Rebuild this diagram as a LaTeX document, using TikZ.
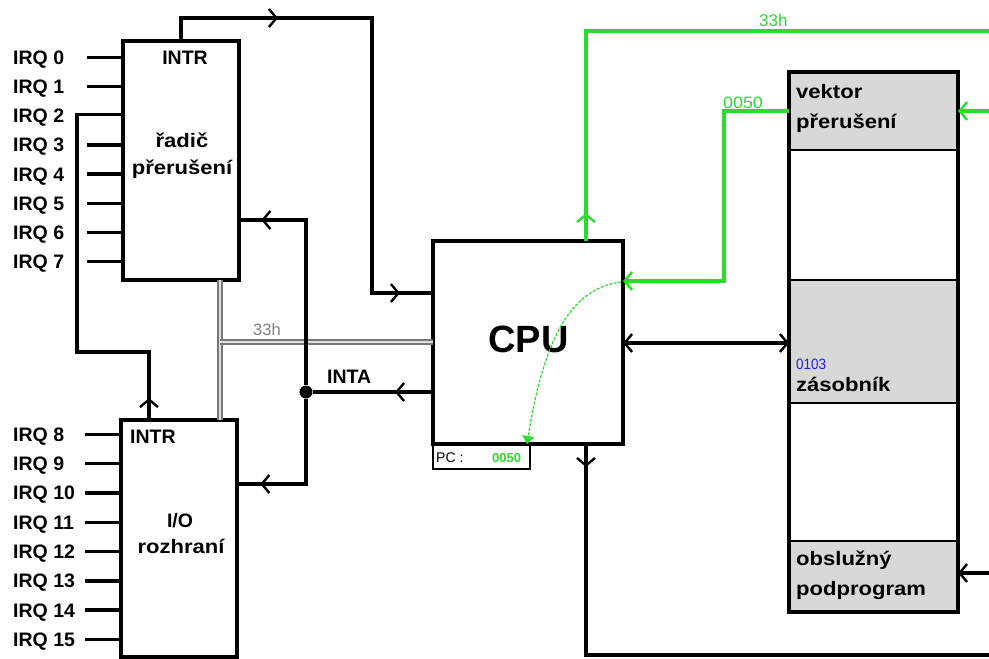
\documentclass[tikz,border=0pt]{standalone}
\usepackage{fontspec}
\usepackage{graphicx}
\setmainfont{Liberation Sans}
\usetikzlibrary{arrows.meta,decorations.markings,fit}
\definecolor{grn}{RGB}{45,218,45}
\definecolor{memgray}{RGB}{216,216,216}
\definecolor{busgray}{RGB}{120,120,120}
\definecolor{lblue}{RGB}{30,30,230}
\newcommand\xwide[1]{\scalebox{1.13}[1]{#1}}
\tikzset{
  chev/.tip={Straight Barb[length=7.5pt,width=18pt,line width=2.4pt]},
  marr/.style={postaction={decorate,decoration={markings,mark=at position #1 with {\arrow{chev}}}}},
  wire/.style={line width=3.4pt},
  gwire/.style={draw=grn,line width=3.6pt},
  bus/.style={draw=busgray,line width=1.6pt,double=gray!25,double distance=2pt},
  box/.style={draw,line width=3.8pt,fill=white,inner sep=0pt,outer sep=0pt},
  sec/.style={draw,line width=2.5pt,inner sep=0pt,outer sep=0pt,minimum width=169,anchor=north west},
  big/.style={font=\bfseries\fontsize{19.5}{22}\selectfont,inner sep=0pt},
  small/.style={font=\fontsize{16.5}{18}\selectfont,inner sep=0pt,anchor=base west},
}
\begin{document}
\begin{tikzpicture}[x=1pt,y=-1pt]
\useasboundingbox (0,0) rectangle (989,659);
\fill[white] (0,0) rectangle (989,659);

% ---- boxes
\node[draw,line width=1.3pt,fill=white,inner sep=0pt,outer sep=0pt,minimum width=97,minimum height=25,anchor=north west] (pc) at (433,444) {};
\node[box,minimum width=116,minimum height=239] (pic) at (181,160.5) {};
\node[box,minimum width=116,minimum height=237] (io) at (179,538.5) {};
\node[box,minimum width=190,minimum height=203] (cpu) at (528,342.5) {};

\node[sec,fill=memgray,minimum height=78] (vec) at (789,72) {};
\node[sec,fill=white,minimum height=130] (f1) at (789,150) {};
\node[sec,fill=memgray,minimum height=123] (stack) at (789,280) {};
\node[sec,fill=white,minimum height=138] (f2) at (789,403) {};
\node[sec,fill=memgray,minimum height=71] (isr) at (789,541) {};
\node[draw,line width=4pt,inner sep=0pt,fit=(vec)(isr)] (mem) {};

% ---- texts in boxes
\node[big,anchor=base] (pintr) at (185,64) {INTR};
\node[big,anchor=base] (pl1) at (182,147) {\xwide{řadič}};
\node[big,anchor=base] (pl2) at (182,174) {\xwide{přerušení}};
\node[big,anchor=base west] (iintr) at (130,443) {INTR};
\node[big,anchor=base] (il1) at (180,527) {I/O};
\node[big,anchor=base] (il2) at (181,553) {\xwide{rozhraní}};
\node[font=\bfseries\fontsize{38}{40}\selectfont,inner sep=0pt,anchor=base] (cpul) at (528.5,352) {CPU};
\node[font=\fontsize{14}{16}\selectfont,inner sep=0pt,anchor=base west] (pcl) at (436,462) {PC :};
\node[font=\bfseries\fontsize{13}{15}\selectfont,text=grn,inner sep=0pt,anchor=base west] (pcv) at (492,462) {0050};
\node[big,anchor=base west] (m1) at (796,98) {\xwide{vektor}};
\node[big,anchor=base west] (m2) at (796,128) {\xwide{přerušení}};
\node[font=\fontsize{15}{16}\selectfont,text=lblue,inner sep=0pt,anchor=base west] (m3) at (796,369) {\scalebox{0.9}[1]{0103}};
\node[big,anchor=base west] (m4) at (796,391) {\xwide{zásobník}};
\node[big,anchor=base west] (m5) at (796,565) {\xwide{obslužný}};
\node[big,anchor=base west] (m6) at (796,595) {\xwide{podprogram}};

% ---- IRQ inputs
\foreach \i in {0,...,7}{
  \pgfmathsetmacro\yy{57.3+29.2*\i}
  \node[big,anchor=base west] (irql\i) at (13,\yy+7) {IRQ \i};
}
\foreach \i in {8,...,15}{
  \pgfmathsetmacro\yy{434.3+29.3*(\i-8)}
  \node[big,anchor=base west] (irql\i) at (13,\yy+7) {IRQ \i};
  \coordinate (irq\i) at (85,\yy);
  \draw[wire] (irq\i) -- (io.west |- irq\i);
}
\foreach \i in {0,1,3,4,5,6,7}{
  \pgfmathsetmacro\yy{57.3+29.2*\i}
  \coordinate (irq\i) at (87,\yy);
  \draw[wire] (irq\i) -- (pic.west |- irq\i);
}

% ---- data bus (grey)
\draw[bus] (pic.south -| 220,0) -- (io.north -| 220,0);
\draw[bus] (220,342) -- (cpu.west |- 0,342);
\node[small,text=gray] (bus33) at (253,335) {33h};

% ---- IRQ 2 cascade from I/O INTR
\draw[wire,marr=22pt] (io.north -| 149,0) -- (149,352) -- (77,352) -- (77,114.5) -- (pic.west |- 0,114.5);

% ---- INTR of controller to CPU
\draw[wire,marr=120pt,marr=517pt] (pic.north) -- (181,18) -- (372,18) -- (372,293) -- (cpu.west |- 0,293);

% ---- INTA
\node[circle,fill,inner sep=0pt,minimum size=13pt] (j) at (306,392) {};
\draw[wire,marr=38pt] (cpu.west |- j) -- (j);
\draw[wire,marr=210pt] (j) -- (306,220) -- (pic.east |- 0,220);
\draw[wire,marr=131pt] (j) -- (306,484) -- (io.east |- 0,484);
\node[big,anchor=base west] (inta) at (327,383) {INTA};

% ---- CPU <-> memory
\draw[wire,{chev}-{chev}] (cpu.east |- 0,343) -- (stack.west |- 0,343);
\draw[wire,marr=23pt] (cpu.south -| 586,0) -- (586,655) -- (989,655);
\draw[wire,-{chev}] (989,573) -- (isr.east |- 0,573);

% ---- green paths
\draw[gwire,marr=28pt] (cpu.north -| 586,0) -- (586,31) -- (989,31);
\node[small,text=grn] (g33) at (759,26) {\fontsize{17}{18}\selectfont 33h};
\draw[gwire,-{chev}] (vec.west) -- (724,111) -- (724,281) -- (cpu.east |- 0,281);
\node[small,text=grn] (g50) at (723,108) {\scalebox{1.08}[1]{0050}};
\draw[gwire,-{chev}] (989,111) -- (vec.east);
\coordinate (cs) at (621,282);
\draw[grn,line width=1.2pt,dash pattern=on 3pt off 1.5pt,-{Triangle[length=8pt,width=12pt]}]
  (cs) .. controls (575,288) and (545,330) .. (pc.north -| 527,0);
\end{tikzpicture}
\end{document}
